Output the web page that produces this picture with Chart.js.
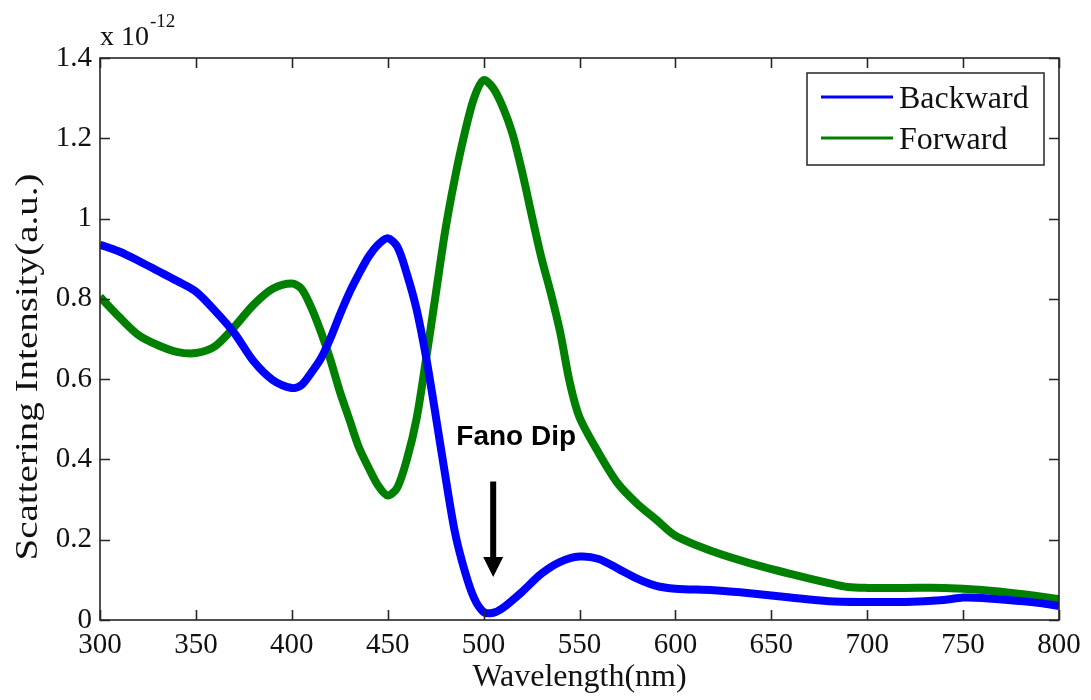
<!DOCTYPE html>
<html>
<head>
<meta charset="utf-8">
<script src="https://cdn.jsdelivr.net/npm/chart.js@4.4.1/dist/chart.umd.min.js"></script>
<style>
  html, body { margin: 0; padding: 0; background: #ffffff; }
  #wrap { width: 1091px; height: 700px; }
</style>
</head>
<body>
<div id="wrap"><canvas id="c" width="1091" height="700"></canvas></div>
<script>
// Wavelength samples (nm) and scattering intensities (units of 1e-12, a.u.)
const backwardWl = [300, 310, 320, 330, 340, 350, 360, 370, 380, 390, 400, 405, 410, 415, 420, 425, 430, 435, 440, 445, 450, 455, 460, 465, 470, 475, 480, 485, 490, 495, 500, 505, 510, 520, 530, 540, 550, 560, 570, 580, 590, 600, 620, 640, 660, 680, 700, 720, 740, 750, 760, 780, 790, 800];
const backwardVal = [0.935, 0.918, 0.895, 0.870, 0.845, 0.818, 0.770, 0.715, 0.645, 0.598, 0.578, 0.585, 0.615, 0.650, 0.700, 0.760, 0.815, 0.862, 0.905, 0.935, 0.951, 0.930, 0.862, 0.775, 0.655, 0.510, 0.360, 0.220, 0.125, 0.055, 0.020, 0.018, 0.030, 0.070, 0.115, 0.145, 0.158, 0.152, 0.128, 0.103, 0.085, 0.078, 0.074, 0.066, 0.056, 0.047, 0.045, 0.045, 0.050, 0.056, 0.055, 0.047, 0.042, 0.035];

const forwardWl = [300, 310, 320, 330, 340, 350, 360, 370, 380, 390, 400, 405, 410, 415, 420, 425, 430, 435, 440, 445, 450, 455, 460, 465, 470, 475, 480, 485, 490, 495, 500, 505, 510, 515, 520, 525, 530, 535, 540, 545, 550, 560, 570, 580, 590, 600, 620, 640, 660, 680, 690, 700, 720, 740, 760, 780, 800];
const forwardVal = [0.805, 0.755, 0.710, 0.685, 0.668, 0.665, 0.682, 0.730, 0.785, 0.825, 0.838, 0.825, 0.780, 0.720, 0.650, 0.570, 0.500, 0.430, 0.380, 0.335, 0.310, 0.330, 0.400, 0.500, 0.650, 0.810, 0.970, 1.100, 1.210, 1.300, 1.345, 1.325, 1.278, 1.212, 1.118, 1.010, 0.905, 0.815, 0.715, 0.590, 0.505, 0.416, 0.340, 0.290, 0.250, 0.210, 0.170, 0.140, 0.115, 0.092, 0.082, 0.080, 0.080, 0.080, 0.075, 0.065, 0.052];

const seriesLabels = ['Backward', 'Forward'];
const seriesColors = ['#0000ff', '#008000'];

const xTickValues = [300, 350, 400, 450, 500, 550, 600, 650, 700, 750, 800];
const yTickValues = [0, 0.2, 0.4, 0.6, 0.8, 1.0, 1.2, 1.4];

const xTitle = 'Wavelength(nm)';
const yTitle = 'Scattering Intensity(a.u.)';
const exponentBase = 'x 10';
const exponentPower = '-12';

// "Fano Dip" note with a downward arrow, in data coordinates
const noteText = 'Fano Dip';
const noteAt = { x: 517, y: 0.435 };
const arrowAt = { x: 505, yTop: 0.345, yTip: 0.107 };

const SERIF = '"Liberation Serif", "Times New Roman", serif';
const SANS = '"Liberation Sans", Arial, sans-serif';
const INK = '#111111';

const toPoints = (xs, ys) => xs.map((x, i) => ({ x: x, y: ys[i] }));

const framePlugin = {
  id: 'frame',
  afterDraw(chart) {
    const ctx = chart.ctx;
    const ca = chart.chartArea;
    const xs = chart.scales.x;
    const ys = chart.scales.y;
    const tick = 10;

    ctx.save();
    // box around the plot area
    ctx.strokeStyle = '#262626';
    ctx.lineWidth = 1.6;
    ctx.strokeRect(ca.left, ca.top, ca.right - ca.left, ca.bottom - ca.top);

    // inward tick marks on all four sides
    ctx.beginPath();
    xs.ticks.forEach((t, i) => {
      const px = Math.round(xs.getPixelForTick(i)) + 0.5;
      ctx.moveTo(px, ca.bottom); ctx.lineTo(px, ca.bottom - tick);
      ctx.moveTo(px, ca.top); ctx.lineTo(px, ca.top + tick);
    });
    ys.ticks.forEach((t, i) => {
      const py = Math.round(ys.getPixelForTick(i)) + 0.5;
      ctx.moveTo(ca.left, py); ctx.lineTo(ca.left + tick, py);
      ctx.moveTo(ca.right, py); ctx.lineTo(ca.right - tick, py);
    });
    ctx.stroke();

    // exponent label above the y axis
    ctx.fillStyle = INK;
    ctx.textAlign = 'left';
    ctx.textBaseline = 'alphabetic';
    ctx.font = '28px ' + SERIF;
    ctx.fillText(exponentBase, ca.left, ca.top - 13);
    const bw = ctx.measureText(exponentBase).width;
    ctx.font = '19px ' + SERIF;
    ctx.fillText(exponentPower, ca.left + bw + 1, ca.top - 31);

    // y axis title, rotated
    ctx.save();
    ctx.translate(29, 367);
    ctx.rotate(-Math.PI / 2);
    ctx.scale(1.22, 1);
    ctx.font = '32px ' + SERIF;
    ctx.textAlign = 'center';
    ctx.textBaseline = 'middle';
    ctx.fillText(yTitle, 0, 0);
    ctx.restore();

    // legend box in the upper right corner
    const lgLeft = ca.right - 252, lgTop = ca.top + 15, lgW = 237, lgH = 92;
    ctx.fillStyle = '#ffffff';
    ctx.fillRect(lgLeft, lgTop, lgW, lgH);
    ctx.strokeStyle = '#333333';
    ctx.lineWidth = 1.6;
    ctx.strokeRect(lgLeft, lgTop, lgW, lgH);
    chart.data.datasets.forEach((ds, i) => {
      const ly = lgTop + 24 + i * 41;
      ctx.strokeStyle = ds.borderColor;
      ctx.lineWidth = 3;
      ctx.beginPath();
      ctx.moveTo(lgLeft + 14, ly);
      ctx.lineTo(lgLeft + 86, ly);
      ctx.stroke();
      ctx.fillStyle = INK;
      ctx.font = '32px ' + SERIF;
      ctx.textAlign = 'left';
      ctx.textBaseline = 'alphabetic';
      ctx.fillText(ds.label, lgLeft + 92, ly + 10.5);
    });

    // annotation text and arrow
    ctx.fillStyle = '#000000';
    ctx.font = 'bold 28px ' + SANS;
    ctx.textAlign = 'center';
    ctx.textBaseline = 'alphabetic';
    ctx.fillText(noteText, xs.getPixelForValue(noteAt.x), ys.getPixelForValue(noteAt.y));

    const ax = xs.getPixelForValue(arrowAt.x);
    const aTop = ys.getPixelForValue(arrowAt.yTop);
    const aTip = ys.getPixelForValue(arrowAt.yTip);
    const headLen = 20, headHalf = 10;
    ctx.strokeStyle = '#000000';
    ctx.lineWidth = 6;
    ctx.lineCap = 'butt';
    ctx.beginPath();
    ctx.moveTo(ax, aTop);
    ctx.lineTo(ax, aTip - headLen + 2);
    ctx.stroke();
    ctx.beginPath();
    ctx.moveTo(ax - headHalf, aTip - headLen);
    ctx.lineTo(ax + headHalf, aTip - headLen);
    ctx.lineTo(ax, aTip);
    ctx.closePath();
    ctx.fill();

    ctx.restore();
  }
};

new Chart(document.getElementById('c'), {
  type: 'line',
  data: {
    datasets: [
      {
        label: seriesLabels[0],
        data: toPoints(backwardWl, backwardVal),
        borderColor: seriesColors[0],
        backgroundColor: seriesColors[0],
        borderWidth: 8,
        pointRadius: 0,
        tension: 0.3,
        fill: false
      },
      {
        label: seriesLabels[1],
        data: toPoints(forwardWl, forwardVal),
        borderColor: seriesColors[1],
        backgroundColor: seriesColors[1],
        borderWidth: 8,
        pointRadius: 0,
        tension: 0.3,
        fill: false
      }
    ]
  },
  options: {
    responsive: false,
    animation: false,
    devicePixelRatio: 1,
    layout: { padding: { left: 0, right: 32, top: 58, bottom: 0 } },
    plugins: {
      legend: { display: false },
      tooltip: { enabled: false }
    },
    scales: {
      x: {
        type: 'linear',
        min: 300,
        max: 800,
        afterBuildTicks: (s) => { s.ticks = xTickValues.map(v => ({ value: v })); },
        afterFit: (s) => { s.height = 80; },
        grid: { display: false, drawTicks: false },
        border: { display: false },
        ticks: {
          font: { family: SERIF, size: 29 },
          color: INK,
          padding: 8,
          maxRotation: 0,
          autoSkip: false
        },
        title: {
          display: true,
          text: xTitle,
          font: { family: SERIF, size: 32 },
          color: INK,
          padding: { top: 0, bottom: 3 }
        }
      },
      y: {
        type: 'linear',
        min: 0,
        max: 1.4,
        afterBuildTicks: (s) => { s.ticks = yTickValues.map(v => ({ value: v })); },
        afterFit: (s) => { s.width = 100; },
        grid: { display: false, drawTicks: false },
        border: { display: false },
        ticks: {
          font: { family: SERIF, size: 29 },
          color: INK,
          padding: 8,
          callback: (v) => String(+Number(v).toFixed(1))
        }
      }
    }
  },
  plugins: [framePlugin]
});
</script>
</body>
</html>
